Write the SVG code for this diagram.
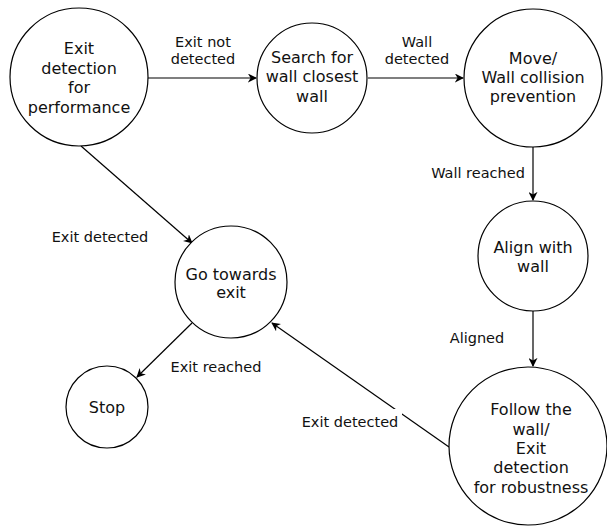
<svg xmlns="http://www.w3.org/2000/svg" width="607" height="529" viewBox="0 0 607 529">
<style>
.n{fill:#fff;stroke:#000;stroke-width:1.2}
.t{font-family:"DejaVu Sans",sans-serif;font-size:16px;fill:#111;text-anchor:middle}
.l{font-family:"DejaVu Sans",sans-serif;font-size:14.5px;fill:#111;text-anchor:middle}
.e{fill:none;stroke:#000;stroke-width:1.2;marker-end:url(#a)}
</style>
<defs>
<marker id="a" viewBox="0 0 10 10" refX="9" refY="5" markerWidth="9" markerHeight="9" markerUnits="userSpaceOnUse" orient="auto">
<path d="M0,0 L10,5 L0,10 L3,5 z" fill="#000"/>
</marker>
</defs>
<rect width="607" height="529" fill="#fff"/>
<g id="edges">
<line class="e" x1="148" y1="78" x2="256" y2="78"/>
<line class="e" x1="368" y1="78" x2="463" y2="78"/>
<line class="e" x1="533" y1="147" x2="533" y2="200"/>
<line class="e" x1="533" y1="311" x2="533" y2="366"/>
<line class="e" x1="81" y1="146" x2="192" y2="243"/>
<line class="e" x1="449" y1="447" x2="272" y2="323"/>
<line class="e" x1="192" y1="323" x2="137" y2="377"/>
<text class="l" x="203" y="47">Exit not</text>
<text class="l" x="203" y="64">detected</text>
<text class="l" x="417" y="47">Wall</text>
<text class="l" x="417" y="64">detected</text>
<text class="l" x="478" y="178">Wall reached</text>
<text class="l" x="100" y="242">Exit detected</text>
<text class="l" x="477" y="343">Aligned</text>
<text class="l" x="216" y="372">Exit reached</text>
<rect x="298" y="409" width="104" height="22" fill="#fff"/>
<text class="l" x="350" y="427">Exit detected</text>
</g>
<g id="n1"><circle class="n" cx="79" cy="77" r="69"/>
<text class="t" x="79" y="54">Exit</text><text class="t" x="79" y="74">detection</text><text class="t" x="79" y="93">for</text><text class="t" x="79" y="113">performance</text></g>
<g id="n2"><circle class="n" cx="312" cy="78" r="55"/>
<text class="t" x="312" y="63">Search for</text><text class="t" x="312" y="82">wall closest</text><text class="t" x="312" y="102">wall</text></g>
<g id="n3"><circle class="n" cx="533" cy="78" r="69"/>
<text class="t" x="533" y="64">Move/</text><text class="t" x="533" y="83">Wall collision</text><text class="t" x="533" y="102">prevention</text></g>
<g id="n4"><circle class="n" cx="533" cy="256" r="55"/>
<text class="t" x="533" y="253">Align with</text><text class="t" x="533" y="272">wall</text></g>
<g id="n5"><circle class="n" cx="528" cy="446" r="79"/>
<text class="t" x="531" y="415">Follow the</text><text class="t" x="531" y="435">wall/</text><text class="t" x="531" y="454">Exit</text><text class="t" x="531" y="473">detection</text><text class="t" x="531" y="493">for robustness</text></g>
<g id="n6"><circle class="n" cx="231" cy="282" r="56"/>
<text class="t" x="231" y="280">Go towards</text><text class="t" x="231" y="298">exit</text></g>
<g id="n7"><circle class="n" cx="107" cy="407" r="41"/>
<text class="t" x="107" y="413">Stop</text></g>
</svg>
